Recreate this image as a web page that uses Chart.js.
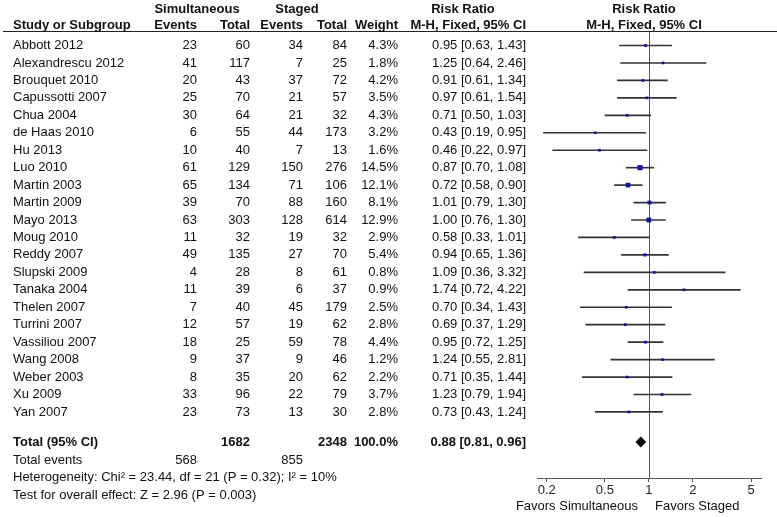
<!DOCTYPE html>
<html>
<head>
<meta charset="utf-8">
<script src="https://cdn.jsdelivr.net/npm/chart.js@4.4.1/dist/chart.umd.min.js"></script>
<style>
  html, body { margin: 0; padding: 0; background: #fff; }
  canvas { display: block; }
</style>
</head>
<body>
<canvas id="forest" width="777" height="517"></canvas>
<script>
// study rows, top to bottom
const studies = ['Abbott 2012', 'Alexandrescu 2012', 'Brouquet 2010', 'Capussotti 2007', 'Chua 2004',
  'de Haas 2010', 'Hu 2013', 'Luo 2010', 'Martin 2003', 'Martin 2009', 'Mayo 2013', 'Moug 2010',
  'Reddy 2007', 'Slupski 2009', 'Tanaka 2004', 'Thelen 2007', 'Turrini 2007', 'Vassiliou 2007',
  'Wang 2008', 'Weber 2003', 'Xu 2009', 'Yan 2007'];
const simEvents = [23, 41, 20, 25, 30, 6, 10, 61, 65, 39, 63, 11, 49, 4, 11, 7, 12, 18, 9, 8, 33, 23];
const simTotal = [60, 117, 43, 70, 64, 55, 40, 129, 134, 70, 303, 32, 135, 28, 39, 40, 57, 25, 37, 35, 96, 73];
const stagedEvents = [34, 7, 37, 21, 21, 44, 7, 150, 71, 88, 128, 19, 27, 8, 6, 45, 19, 59, 9, 20, 22, 13];
const stagedTotal = [84, 25, 72, 57, 32, 173, 13, 276, 106, 160, 614, 32, 70, 61, 37, 179, 62, 78, 46, 62, 79, 30];
const weights = [4.3, 1.8, 4.2, 3.5, 4.3, 3.2, 1.6, 14.5, 12.1, 8.1, 12.9, 2.9, 5.4, 0.8, 0.9, 2.5, 2.8, 4.4, 1.2, 2.2, 3.7, 2.8];
const riskRatio = [0.95, 1.25, 0.91, 0.97, 0.71, 0.43, 0.46, 0.87, 0.72, 1.01, 1.00, 0.58, 0.94, 1.09, 1.74, 0.70, 0.69, 0.95, 1.24, 0.71, 1.23, 0.73];
const ciLow = [0.63, 0.64, 0.61, 0.61, 0.50, 0.19, 0.22, 0.70, 0.58, 0.79, 0.76, 0.33, 0.65, 0.36, 0.72, 0.34, 0.37, 0.72, 0.55, 0.35, 0.79, 0.43];
const ciHigh = [1.43, 2.46, 1.34, 1.54, 1.03, 0.95, 0.97, 1.08, 0.90, 1.30, 1.30, 1.01, 1.36, 3.32, 4.22, 1.43, 1.29, 1.25, 2.81, 1.44, 1.94, 1.24];

// pooled result: [estimate, low, high]
const pooled = [0.88, 0.81, 0.96];
const totals = [1682, 2348];          // simultaneous, staged
const totalEvents = [568, 855];
const tickValues = [0.2, 0.5, 1, 2, 5];
const tickLabels = ['0.2', '0.5', '1', '2', '5'];

const FONT = '"Liberation Sans", Arial, sans-serif';
const INK = '#111';
const TOTAL_ROW = 22.72;

function txt(ctx, s, x, y, align, bold) {
  ctx.font = (bold ? 'bold ' : '') + '13px ' + FONT;
  ctx.textAlign = align;
  ctx.fillText(s, x, y);
}

const fmt = (v) => v.toFixed(2);

const forestPlugin = {
  id: 'forest',
  beforeDatasetsDraw(chart) {
    const { ctx, chartArea, scales } = chart;
    const x1 = Math.round(scales.x.getPixelForValue(1)) + 0.5;
    ctx.save();
    ctx.strokeStyle = '#555';
    ctx.lineWidth = 1;
    ctx.beginPath();
    ctx.moveTo(x1, chartArea.top);
    ctx.lineTo(x1, chartArea.bottom);
    ctx.stroke();
    // header rule
    ctx.strokeStyle = '#222';
    ctx.beginPath();
    ctx.moveTo(3, 31.5);
    ctx.lineTo(777, 31.5);
    ctx.stroke();
    ctx.restore();
  },
  afterDatasetsDraw(chart) {
    const { ctx, scales } = chart;
    const y = scales.y.getPixelForValue(TOTAL_ROW);
    const xl = scales.x.getPixelForValue(pooled[1]);
    const xm = scales.x.getPixelForValue(pooled[0]);
    const xr = scales.x.getPixelForValue(pooled[2]);
    ctx.save();
    ctx.fillStyle = '#000';
    ctx.beginPath();
    ctx.moveTo(xl, y);
    ctx.lineTo(xm, y - 5.5);
    ctx.lineTo(xr, y);
    ctx.lineTo(xm, y + 5.5);
    ctx.closePath();
    ctx.fill();
    ctx.restore();
  },
  afterDraw(chart) {
    const { ctx, scales } = chart;
    const yAt = (i) => scales.y.getPixelForValue(i);
    ctx.save();
    ctx.fillStyle = INK;
    ctx.textBaseline = 'middle';

    // headers
    txt(ctx, 'Simultaneous', 197, 9, 'center', true);
    txt(ctx, 'Staged', 297, 9, 'center', true);
    txt(ctx, 'Risk Ratio', 463, 9, 'center', true);
    txt(ctx, 'Risk Ratio', 644, 9, 'center', true);
    txt(ctx, 'Study or Subgroup', 13, 25, 'left', true);
    txt(ctx, 'Events', 197, 25, 'right', true);
    txt(ctx, 'Total', 250, 25, 'right', true);
    txt(ctx, 'Events', 303, 25, 'right', true);
    txt(ctx, 'Total', 347, 25, 'right', true);
    txt(ctx, 'Weight', 398, 25, 'right', true);
    txt(ctx, 'M-H, Fixed, 95% CI', 526, 25, 'right', true);
    txt(ctx, 'M-H, Fixed, 95% CI', 644, 25, 'center', true);

    studies.forEach((name, i) => {
      const y = yAt(i);
      txt(ctx, name, 13, y, 'left');
      txt(ctx, String(simEvents[i]), 197, y, 'right');
      txt(ctx, String(simTotal[i]), 250, y, 'right');
      txt(ctx, String(stagedEvents[i]), 303, y, 'right');
      txt(ctx, String(stagedTotal[i]), 347, y, 'right');
      txt(ctx, weights[i].toFixed(1) + '%', 398, y, 'right');
      txt(ctx, `${fmt(riskRatio[i])} [${fmt(ciLow[i])}, ${fmt(ciHigh[i])}]`, 526, y, 'right');
    });

    let y = yAt(TOTAL_ROW);
    txt(ctx, 'Total (95% CI)', 13, y, 'left', true);
    txt(ctx, String(totals[0]), 250, y, 'right', true);
    txt(ctx, String(totals[1]), 347, y, 'right', true);
    txt(ctx, '100.0%', 398, y, 'right', true);
    txt(ctx, `${fmt(pooled[0])} [${fmt(pooled[1])}, ${fmt(pooled[2])}]`, 526, y, 'right', true);

    y = yAt(TOTAL_ROW + 1.03);
    txt(ctx, 'Total events', 13, y, 'left');
    txt(ctx, String(totalEvents[0]), 197, y, 'right');
    txt(ctx, String(totalEvents[1]), 303, y, 'right');
    txt(ctx, 'Heterogeneity: Chi² = 23.44, df = 21 (P = 0.32); I² = 10%', 13, yAt(TOTAL_ROW + 2.06), 'left');
    txt(ctx, 'Test for overall effect: Z = 2.96 (P = 0.003)', 13, yAt(TOTAL_ROW + 3.09), 'left');

    txt(ctx, 'Favors Simultaneous', 638, 506, 'right');
    txt(ctx, 'Favors Staged', 655, 506, 'left');
    ctx.restore();
  }
};

new Chart(document.getElementById('forest').getContext('2d'), {
  type: 'scatter',
  plugins: [forestPlugin],
  data: {
    datasets: [
      {
        // study estimates, square size by weight
        type: 'scatter',
        data: riskRatio.map((v, i) => ({ x: v, y: i })),
        pointStyle: 'rect',
        pointRadius: weights.map((w) => Math.max(1.9, 0.95 * Math.sqrt(w))),
        backgroundColor: '#1212a8',
        borderWidth: 0,
        order: 0,
      },
      {
        // confidence intervals
        type: 'bar',
        indexAxis: 'y',
        data: ciLow.map((lo, i) => ({ x: [lo, ciHigh[i]], y: i })),
        barThickness: 1,
        backgroundColor: '#333',
        borderWidth: 0,
        order: 1,
      },
    ],
  },
  options: {
    responsive: false,
    animation: false,
    devicePixelRatio: 1,
    layout: { padding: { left: 537, right: 16, top: 32, bottom: 0 } },
    plugins: { legend: { display: false }, tooltip: { enabled: false } },
    scales: {
      x: {
        type: 'logarithmic',
        position: 'bottom',
        bounds: 'data',
        offset: false,
        min: 0.1717,
        max: 5.85,
        afterBuildTicks: (s) => { s.ticks = tickValues.map((v) => ({ value: v })); },
        afterFit: (s) => { s.height = 39; },
        ticks: {
          autoSkip: false,
          maxRotation: 0,
          padding: 1,
          color: '#222',
          font: { size: 13, family: FONT },
          callback: (v, i) => tickLabels[i],
        },
        grid: { drawOnChartArea: false, drawTicks: true, tickLength: 4, color: '#555' },
        border: { color: '#555', width: 1 },
      },
      y: {
        type: 'linear',
        display: false,
        offset: false,
        reverse: true,
        min: -0.774,
        max: 24.785,
      },
    },
  },
});
</script>
</body>
</html>
